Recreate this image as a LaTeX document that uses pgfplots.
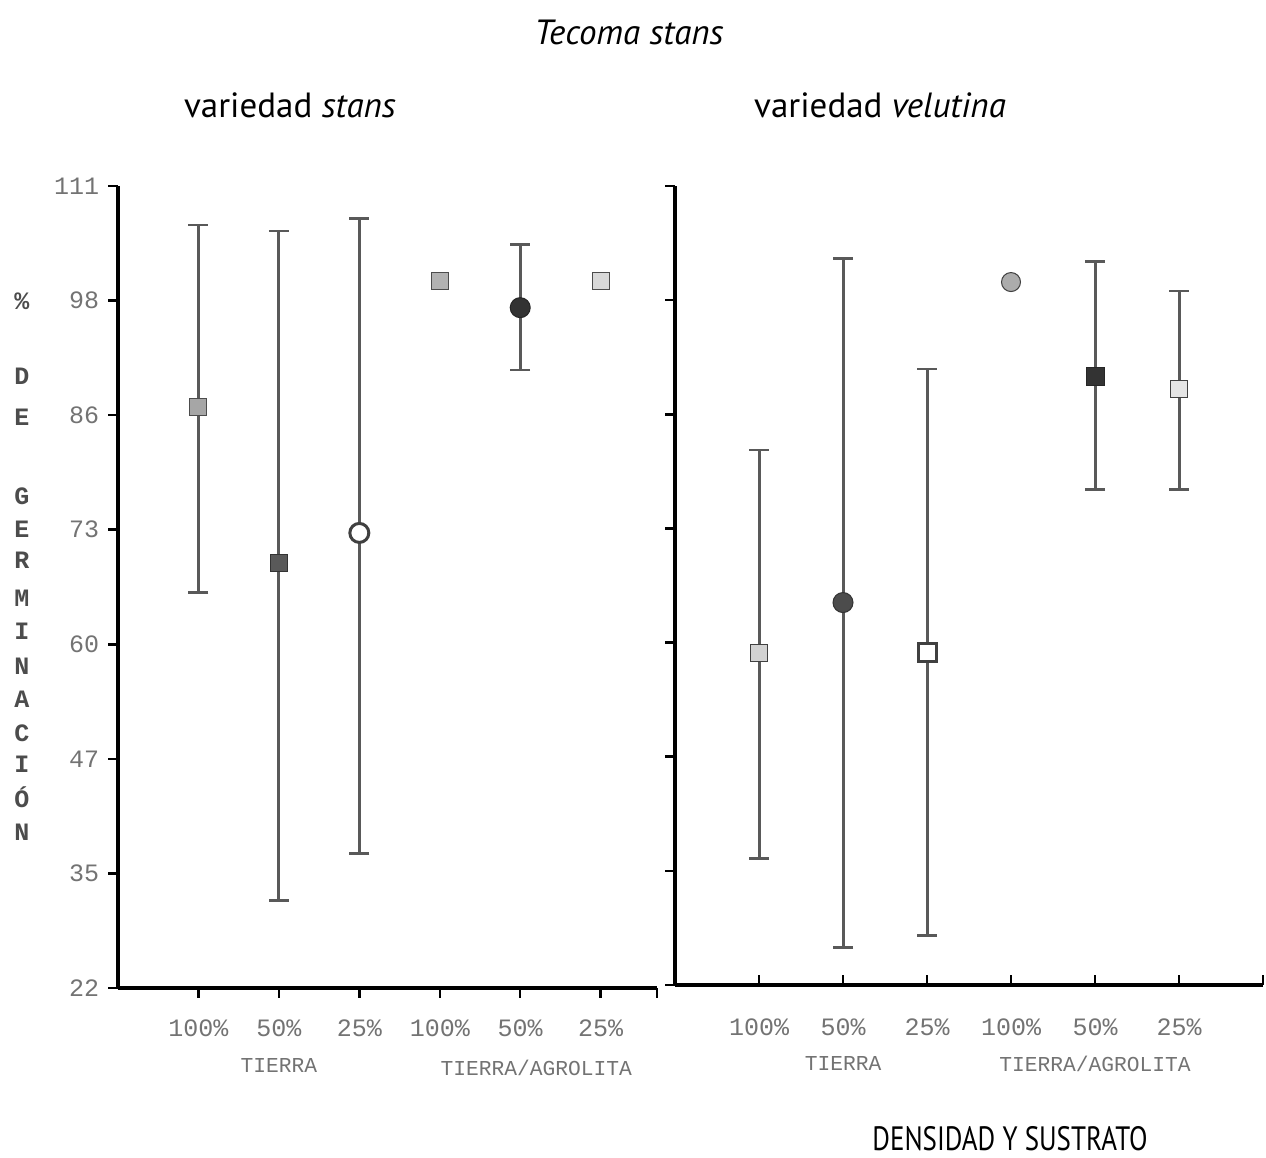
\documentclass[border=0pt]{standalone}
\usepackage{fontspec}
\setmainfont{PT Sans}
\setmonofont{Liberation Mono}
\newfontfamily\condsans[FakeStretch=0.8]{PT Sans}
\usepackage{pgfplots}
\pgfplotsset{compat=1.18}
\definecolor{lbl}{gray}{0.45}
\definecolor{bar}{gray}{0.35}

\pgfplotsset{
  panel/.style={
    scale only axis,
    axis x line*=bottom, axis y line*=left,
    axis line style={line width=1.6pt, black},
    ymin=22, ymax=111,
    ytick={22,34.714,47.429,60.143,72.857,85.571,98.286,111},
    tick style={line width=1pt, black},
    major tick length=4pt,
    tick align=outside,
    ticklabel style={font=\ttfamily\fontsize{10}{10}\selectfont, text=lbl},
    /pgf/number format/assume math mode=true,
    clip=false,
  },
  ebar/.style={draw=none, mark=none,
    error bars/.cd, y dir=both, y explicit,
    error bar style={draw=bar, line width=1.2pt},
    error mark options={draw=bar, line width=1pt, mark size=4pt, rotate=90}},
}
\tikzset{grp/.style={font=\ttfamily\fontsize{8.5}{8.5}\selectfont, text=lbl}}

\begin{document}
\begin{tikzpicture}
\useasboundingbox (0,0) rectangle (506.4pt,463.2pt);

% ---------- left panel ----------
\begin{axis}[panel, at={(47.2pt,68pt)}, anchor=south west,
  width=215.6pt, height=320.8pt,
  xmin=0, xmax=6.7, xtick={1,2,3,4,5,6,6.7},
  xticklabels={100\%,50\%,25\%,100\%,50\%,25\%,},
  yticklabels={22,35,47,60,73,86,98,111},
  xticklabel style={yshift=-5pt}]
\addplot[ebar] table[x=x, y=y, y error plus=ep, y error minus=em] {
x y ep em
1 86.5 20.2 20.6
2 69.2 36.8 37.5
3 72.5 34.9 35.6
5 97.5 7.0 6.9
};
\addplot[only marks, mark=square*, mark size=3.4pt, draw=black!70, fill=gray!70] coordinates {(1,86.5)};
\addplot[only marks, mark=square*, mark size=3.4pt, draw=black!80, fill=black!65] coordinates {(2,69.2)};
\addplot[only marks, mark=*, mark size=3.8pt, line width=1.2pt, draw=black!75, fill=white] coordinates {(3,72.5)};
\addplot[only marks, mark=square*, mark size=3.4pt, draw=black!70, fill=gray!60] coordinates {(4,100.5)};
\addplot[only marks, mark=*, mark size=4pt, draw=black!85, fill=black!80] coordinates {(5,97.5)};
\addplot[only marks, mark=square*, mark size=3.4pt, draw=black!70, fill=gray!30] coordinates {(6,100.5)};
\node[grp, yshift=-31.2pt] at (axis cs:2,22) {TIERRA};
\node[grp, yshift=-32pt] at (axis cs:5.2,22) {TIERRA/AGROLITA};
\end{axis}

% ---------- right panel ----------
\begin{axis}[panel, at={(270pt,69.2pt)}, anchor=south west,
  width=235.2pt, height=319.6pt,
  xmin=0, xmax=7, xtick={1,2,3,4,5,6,7},
  xticklabels={100\%,50\%,25\%,100\%,50\%,25\%,},
  yticklabels={},
  xtick style={yshift=4pt},
  xticklabel style={yshift=-6pt}]
\addplot[ebar] table[x=x, y=y, y error plus=ep, y error minus=em] {
x y ep em
1 59.0 22.6 22.9
2 64.6 38.3 38.4
3 59.0 31.6 31.5
5 89.8 12.8 12.6
6 88.4 10.9 11.2
};
\addplot[only marks, mark=square*, mark size=3.4pt, draw=black!75, fill=gray!35] coordinates {(1,59.0)};
\addplot[only marks, mark=*, mark size=4pt, draw=black!80, fill=black!70] coordinates {(2,64.6)};
\addplot[only marks, mark=square*, mark size=3.6pt, line width=1.2pt, draw=black!75, fill=white] coordinates {(3,59.0)};
\addplot[only marks, mark=*, mark size=3.8pt, draw=black!75, fill=gray!65] coordinates {(4,100.3)};
\addplot[only marks, mark=square*, mark size=3.6pt, draw=black!85, fill=black!80] coordinates {(5,89.8)};
\addplot[only marks, mark=square*, mark size=3.4pt, draw=black!75, fill=gray!20] coordinates {(6,88.4)};
\node[grp, yshift=-31.6pt] at (axis cs:2,22) {TIERRA};
\node[grp, yshift=-31.6pt] at (axis cs:5,22) {TIERRA/AGROLITA};
\end{axis}

% ---------- titles ----------
\node[font=\itshape\fontsize{14}{14}\selectfont] at (251.6pt,450.4pt) {Tecoma stans};
\node[font=\fontsize{14}{14}\selectfont] at (116pt,421.2pt) {variedad \textit{stans}};
\node[font=\fontsize{14}{14}\selectfont] at (352pt,421.2pt) {variedad \textit{velutina}};
\node[font=\condsans\fontsize{13.5}{13.5}\selectfont] at (404pt,7.6pt) {DENSIDAD Y SUSTRATO};

% ---------- stacked y label ----------
\foreach \c/\py in {{\%}/301, D/376, E/417, G/496, E/529, R/560, M/598, I/631, N/666, A/699, C/733, I/764, Ó/797, N/832}{
  \node[font=\ttfamily\bfseries\fontsize{10}{10}\selectfont, text=black!70] at (8.8pt,{(1158-\py)*0.4pt}) {\c};
}
\end{tikzpicture}
\end{document}
